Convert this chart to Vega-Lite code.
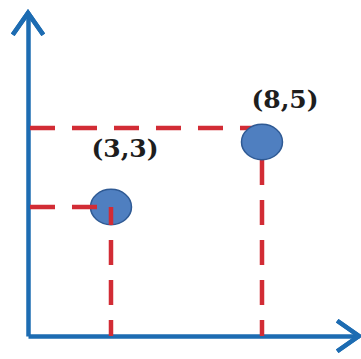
{
  "$schema": "https://vega.github.io/schema/vega-lite/v6.json",
  "autosize": {"type": "none"},
  "padding": {"left": 28, "top": 13, "right": 2, "bottom": 23},
  "width": 331,
  "height": 323,
  "background": "white",
  "config": {
    "view": {"stroke": null},
    "axis": {"domain": true, "domainColor": "#1d6cb2", "domainWidth": 4.5, "ticks": false, "labels": false, "grid": false, "title": null}
  },
  "data": {"values": [
    {"x": 3, "y": 3, "label": "(3,3)"},
    {"x": 8, "y": 5, "label": "(8,5)"}
  ]},
  "layer": [
    {
      "transform": [{"filter": "datum.label === '(8,5)'"}],
      "mark": {"type": "rule", "color": "#d22c35", "strokeWidth": 4.5, "strokeDash": [25, 17], "strokeDashOffset": 3, "yOffset": -14},
      "encoding": {
        "x": {"field": "x", "type": "quantitative", "scale": {"domain": [0.252, 11.212], "nice": false, "zero": false}},
        "y": {"field": "y", "type": "quantitative", "scale": {"domain": [-0.969, 8.969], "nice": false, "zero": false}},
        "x2": {"datum": 0.252}
      }
    },
    {
      "transform": [{"filter": "datum.label === '(8,5)'"}],
      "mark": {"type": "rule", "color": "#d22c35", "strokeWidth": 4.5, "strokeDash": [25, 15], "strokeDashOffset": 22},
      "encoding": {
        "x": {"field": "x", "type": "quantitative"},
        "y": {"field": "y", "type": "quantitative"},
        "y2": {"datum": -0.969}
      }
    },
    {
      "mark": {"type": "point", "shape": "M-1,0A1,0.86 0 1,0 1,0A1,0.86 0 1,0 -1,0Z", "size": 1681, "filled": true, "fill": "#4f7fc0", "stroke": "#2f5a94", "strokeWidth": 1.5, "opacity": 1},
      "encoding": {
        "x": {"field": "x", "type": "quantitative"},
        "y": {"field": "y", "type": "quantitative"}
      }
    },
    {
      "transform": [{"filter": "datum.label === '(3,3)'"}],
      "mark": {"type": "rule", "color": "#d22c35", "strokeWidth": 4.5, "strokeDash": [25, 17], "strokeDashOffset": 28},
      "encoding": {
        "x": {"field": "x", "type": "quantitative"},
        "y": {"field": "y", "type": "quantitative"},
        "x2": {"datum": 0.252}
      }
    },
    {
      "transform": [{"filter": "datum.label === '(3,3)'"}],
      "mark": {"type": "rule", "color": "#d22c35", "strokeWidth": 4.5, "strokeDash": [25, 15], "strokeDashOffset": 7},
      "encoding": {
        "x": {"field": "x", "type": "quantitative"},
        "y": {"field": "y", "type": "quantitative"},
        "y2": {"datum": -0.969}
      }
    },
    {
      "transform": [{"filter": "datum.label === '(3,3)'"}],
      "mark": {"type": "text", "font": "DejaVu Serif", "fontWeight": "bold", "fontSize": 25, "color": "#1e1e1e", "align": "center", "baseline": "middle", "dx": 14, "dy": -58},
      "encoding": {
        "x": {"field": "x", "type": "quantitative"},
        "y": {"field": "y", "type": "quantitative"},
        "text": {"field": "label"}
      }
    },
    {
      "transform": [{"filter": "datum.label === '(8,5)'"}],
      "mark": {"type": "text", "font": "DejaVu Serif", "fontWeight": "bold", "fontSize": 25, "color": "#1e1e1e", "align": "center", "baseline": "middle", "dx": 23, "dy": -42},
      "encoding": {
        "x": {"field": "x", "type": "quantitative"},
        "y": {"field": "y", "type": "quantitative"},
        "text": {"field": "label"}
      }
    },
    {
      "mark": {"type": "point", "shape": "M-0.7,1L0,0L0.7,1", "size": 1900, "filled": false, "stroke": "#1d6cb2", "strokeWidth": 4.5, "opacity": 1},
      "encoding": {
        "x": {"datum": 0.252, "type": "quantitative"},
        "y": {"datum": 8.969, "type": "quantitative"}
      }
    },
    {
      "mark": {"type": "point", "shape": "M-1,-0.7L0,0L-1,0.7", "size": 1900, "filled": false, "stroke": "#1d6cb2", "strokeWidth": 4.5, "opacity": 1},
      "encoding": {
        "x": {"datum": 11.212, "type": "quantitative"},
        "y": {"datum": -0.969, "type": "quantitative"}
      }
    }
  ]
}
